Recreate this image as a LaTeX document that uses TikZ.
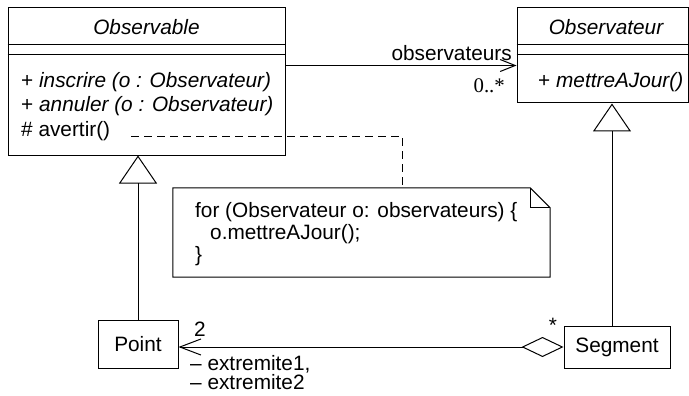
\documentclass[tikz,border=0pt]{standalone}
\usepackage{fontspec}
\setmainfont{Liberation Sans}
\newfontfamily\multfont{Liberation Serif}
\usetikzlibrary{arrows.meta, positioning}
\newcommand{\umlfont}{\fontsize{20.8}{24}\selectfont}
\tikzset{
  classbox/.style={rectangle, draw, line width=1pt, inner sep=0pt, font=\umlfont},
  lbl/.style={inner sep=0pt, font=\umlfont},
  sepline/.style={line width=1pt},
  assoc/.style={line width=1pt, -{Straight Barb[length=15pt, width=12pt]}},
  gen/.style={line width=1pt, -{Triangle[open, length=28pt, width=38pt]}},
  aggr/.style={line width=1pt, {Diamond[open, length=42pt, width=20pt]}-{Straight Barb[length=21pt, width=16pt]}},
  notelink/.style={line width=0.8pt, dash pattern=on 8pt off 5pt},
  notebox/.style={line width=1pt}
}

\begin{document}
\begin{tikzpicture}[x=1pt, y=-1pt]
  \useasboundingbox (0,0) rectangle (689,396);

  % class Observable
  \node[classbox, minimum width=277pt, minimum height=147pt] (obs) at (146.5,81.5) {};
  \node[lbl, anchor=base, font=\umlfont\itshape] (obsname) at (146.5,35) {Observable};
  \draw[sepline] ([yshift=-37pt]obs.north west) -- ([yshift=-37pt]obs.north east);
  \draw[sepline] ([yshift=-47pt]obs.north west) -- ([yshift=-47pt]obs.north east);
  \node[lbl, anchor=base west] (ins) at (21,88) {+ \textit{inscrire (o : Observateur)}};
  \node[lbl, anchor=base west] (ann) at (21,112) {+ \textit{annuler (o : Observateur)}};
  \node[lbl, anchor=base west] (avert) at (21,136) {\# avertir()};

  % class Observateur
  \node[classbox, minimum width=171pt, minimum height=95pt] (obsr) at (602.5,55.5) {};
  \node[lbl, anchor=base, font=\umlfont\itshape] (obsrname) at (606,35) {Observateur};
  \draw[sepline] ([yshift=-37pt]obsr.north west) -- ([yshift=-37pt]obsr.north east);
  \draw[sepline] ([yshift=-47pt]obsr.north west) -- ([yshift=-47pt]obsr.north east);
  \node[lbl, anchor=base west] (maj) at (538,88) {+ \textit{mettreAJour()}};

  % Point and Segment
  \node[classbox, minimum width=80pt, minimum height=48pt] (pt) at (138,344) {Point};
  \node[classbox, minimum width=106pt, minimum height=42pt] (seg) at (617,347) {Segment};

  % note
  \node[minimum width=377pt, minimum height=89pt, inner sep=0pt] (note) at (361.5,232.5) {};
  \draw[notebox] ([xshift=-20pt]note.north east) -- (note.north west) -- (note.south west)
    -- (note.south east) -- ([yshift=-20pt]note.north east) -- cycle;
  \draw[notebox] ([xshift=-20pt]note.north east) |- ([yshift=-20pt]note.north east);
  \node[lbl, anchor=base west] (code1) at (195,217) {for (Observateur o: observateurs) \{};
  \node[lbl, anchor=base west] (code2) at (210,239) {o.mettreAJour();};
  \node[lbl, anchor=base west] (code3) at (195,261) {\}};

  % connectors
  \draw[assoc] ([yshift=-58pt]obs.north east) -- ([yshift=-58pt]obsr.north west);
  \node[lbl, anchor=base east] (role) at (512,61) {observateurs};
  \node[lbl, anchor=base east, font=\umlfont\multfont] (card) at (505,93) {0..*};

  \draw[notelink] ([xshift=21pt]avert.base east) -| ([xshift=40.5pt]note.north);

  \draw[gen] (pt.north) -- (pt.north |- obs.south);
  \draw[gen] ([xshift=-5pt]seg.north) -- ([xshift=-5pt]seg.north |- obsr.south);

  \draw[aggr] (seg.west) -- (pt.east |- seg.west);
  \node[lbl, anchor=base] (two) at (200,336) {2};
  \node[lbl, anchor=base] (many) at (553,332) {*};
  \node[lbl, anchor=base west] (ext1) at (190,370) {– extremite1,};
  \node[lbl, anchor=base west] (ext2) at (190,389) {– extremite2};
\end{tikzpicture}
\end{document}
